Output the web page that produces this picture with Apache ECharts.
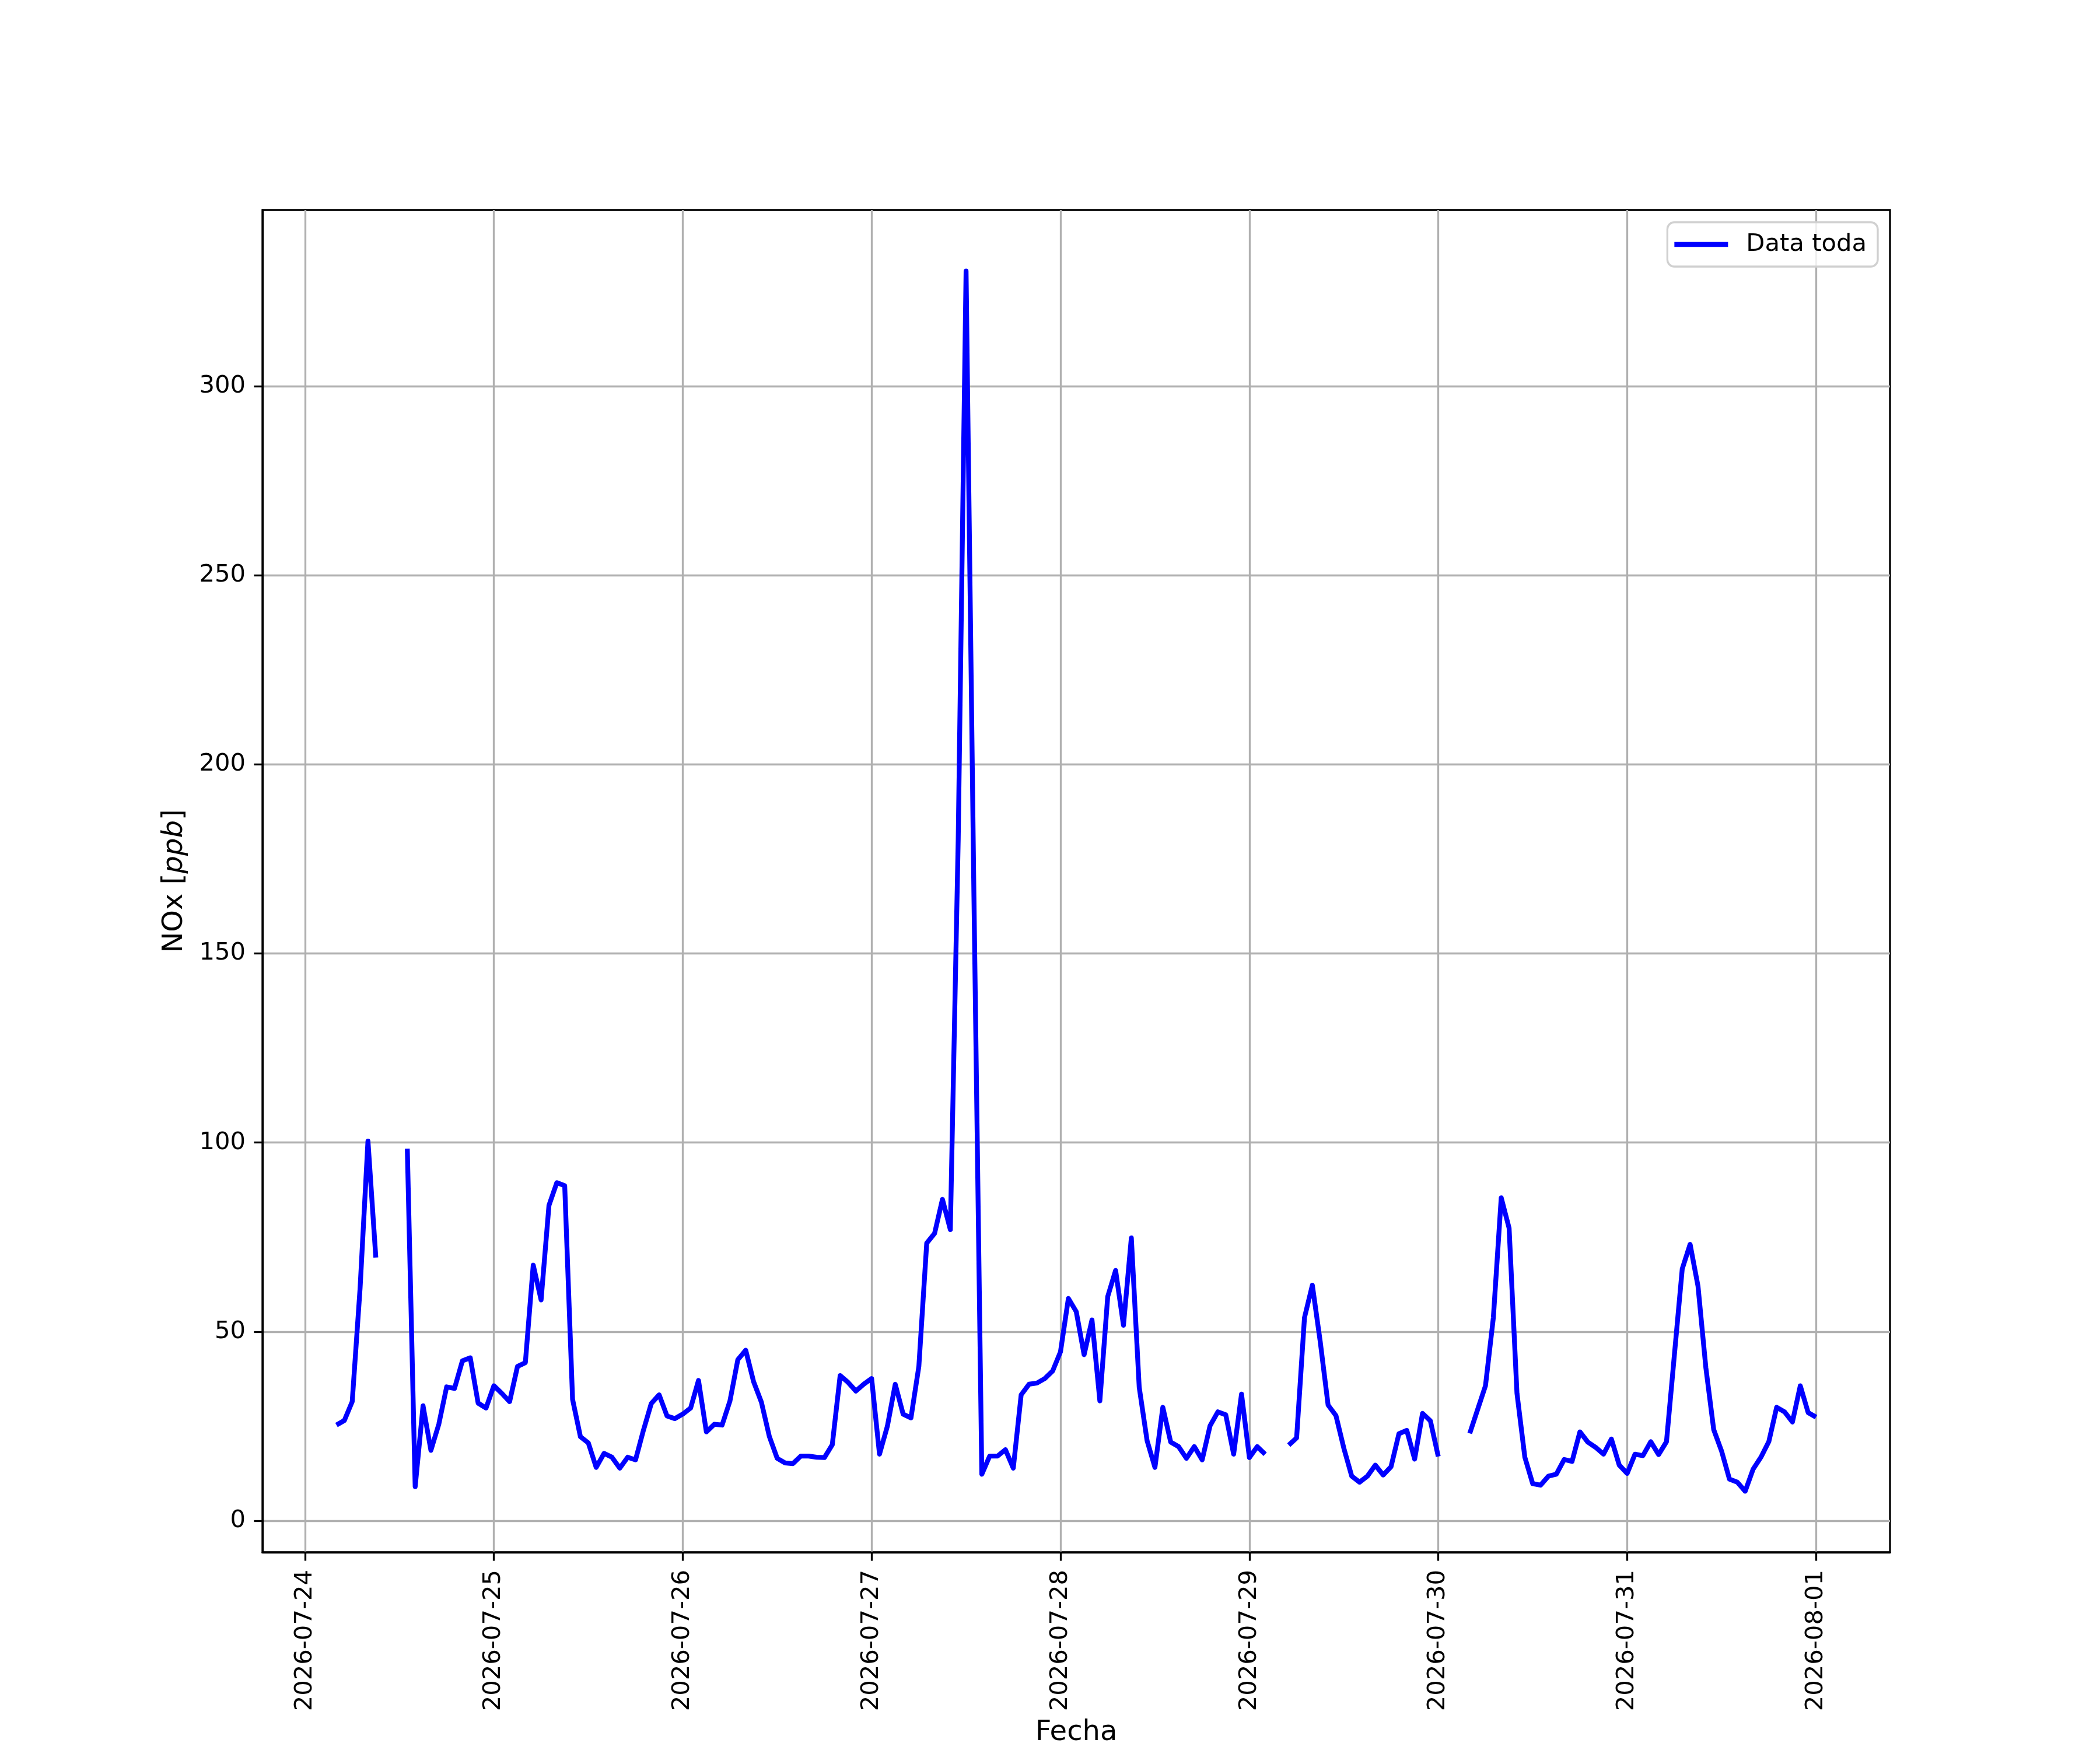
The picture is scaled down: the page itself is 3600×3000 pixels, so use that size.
<!DOCTYPE html>
<html><head><meta charset="utf-8">
<script src="https://cdn.jsdelivr.net/npm/echarts@6/dist/echarts.min.js"></script>
<style>html,body{margin:0;padding:0;background:#fff}#c{width:3600px;height:3000px}</style>
</head><body><div id="c"></div>
<script>
// hours counted from 2026-07-24 00:00; first sample at 04:00, hourly
const startHour = 4;
const nox_0724 = [25.3, 26.5, 31.5, 61.5, 100.4, 69.6, null, null, null, 98.4, 9.0, 30.4, 18.6, 25.5, 35.4, 35.0, 42.3, 43.1, 31.1, 29.8];
const nox_0725 = [35.7, 33.7, 31.5, 40.8, 41.8, 67.6, 58.4, 83.4, 89.4, 88.6, 32.1, 22.2, 20.6, 14.1, 17.8, 16.8, 13.9, 16.8, 16.1, 23.9, 31.0, 33.3, 27.7, 27.0];
const nox_0726 = [28.2, 29.8, 37.1, 23.5, 25.5, 25.3, 31.7, 42.6, 45.1, 36.8, 31.3, 22.3, 16.5, 15.3, 15.1, 17.1, 17.1, 16.8, 16.7, 20.1, 38.4, 36.6, 34.3, 36.1];
const nox_0727 = [37.6, 17.6, 25.0, 36.1, 28.2, 27.2, 40.8, 73.4, 76.0, 85.0, 77.0, 180.0, 330.5, 165.0, 12.3, 17.1, 17.1, 18.8, 13.9, 33.3, 36.1, 36.4, 37.6, 39.6];
const nox_0728 = [44.7, 58.8, 55.3, 43.9, 53.1, 31.7, 59.3, 66.2, 51.7, 74.8, 35.3, 21.2, 14.1, 30.0, 20.8, 19.6, 16.5, 19.6, 16.1, 25.1, 28.8, 28.0, 17.6, 33.5];
const nox_0729 = [16.7, 19.6, 17.6, null, null, 20.0, 21.9, 53.7, 62.3, 47.4, 30.6, 27.8, 19.2, 11.8, 10.2, 11.8, 14.7, 12.1, 14.3, 23.0, 23.9, 16.3, 28.4, 26.4];
const nox_0730 = [17.0, null, null, null, 23.1, 29.4, 35.7, 53.7, 85.4, 77.4, 33.7, 16.8, 9.8, 9.4, 11.8, 12.3, 16.2, 15.7, 23.5, 20.8, 19.4, 17.6, 21.6, 14.7];
const nox_0731 = [12.5, 17.6, 17.2, 20.9, 17.5, 20.9, 43.8, 66.6, 73.1, 62.1, 40.5, 24.1, 18.4, 11.0, 10.2, 7.8, 13.6, 16.8, 20.9, 30.0, 28.8, 26.1, 35.7, 28.6];
const nox_0801 = [27.4];

const dayTicks = [0, 24, 48, 72, 96, 120, 144, 168, 192];
const dayLabels = ['2026-07-24','2026-07-25','2026-07-26','2026-07-27','2026-07-28','2026-07-29','2026-07-30','2026-07-31','2026-08-01'];
const yTicks = [0, 50, 100, 150, 200, 250, 300];
const seriesName = 'Data toda';
const xName = 'Fecha';

const nox = [].concat(nox_0724, nox_0725, nox_0726, nox_0727, nox_0728, nox_0729, nox_0730, nox_0731, nox_0801);
const data = nox.map((v, i) => [startHour + i, v]);

const xs = data.map(d => d[0]);
const vals = nox.filter(v => v !== null);
const x0 = Math.min(...xs), x1 = Math.max(...xs);
const y0 = Math.min(...vals), y1 = Math.max(...vals);
const mx = 0.05 * (x1 - x0), my = 0.05 * (y1 - y0);

const FONT = 'DejaVu Sans';
const FS = 41.7;
const FSL = 48;

const chart = echarts.init(document.getElementById('c'), null, {renderer: 'canvas'});
chart.setOption({
  animation: false,
  backgroundColor: '#ffffff',
  grid: {left: 450, right: 360, top: 360, bottom: 330, show: true, borderColor: '#000', borderWidth: 3.3, backgroundColor: 'transparent'},
  legend: {
    right: 381, top: 381,
    padding: [16, 19, 16, 12],
    backgroundColor: 'rgba(255,255,255,0.8)',
    borderColor: '#d0d0d0', borderWidth: 3.3, borderRadius: 12,
    icon: 'rect', itemWidth: 92, itemHeight: 8.3,
    textStyle: {fontSize: FS, fontFamily: FONT, color: '#000', padding: [0, 0, 0, 26], lineHeight: 44},
    data: [{name: seriesName, itemStyle: {color: '#0000ff'}}]
  },
  xAxis: {
    type: 'value', min: x0 - mx, max: x1 + mx,
    name: xName, nameLocation: 'middle', nameGap: 286,
    nameTextStyle: {fontSize: FSL, fontFamily: FONT, color: '#000', verticalAlign: 'top'},
    axisLine: {show: true, onZero: false, lineStyle: {color: '#000', width: 3.3}},
    axisTick: {show: true, inside: false, length: 14.6, lineStyle: {color: '#000', width: 3.3}, customValues: dayTicks},
    axisLabel: {customValues: dayTicks, rotate: 90, margin: 30, fontSize: FS, fontFamily: FONT, color: '#000',
      formatter: v => dayLabels[Math.round(v / 24)]},
    splitLine: {show: true, lineStyle: {color: '#b0b0b0', width: 3.3}}
  },
  yAxis: {
    type: 'value', min: y0 - my, max: y1 + my,
    name: '{a|NOx [}{b|ppb}{a|]}', nameLocation: 'middle', nameGap: 126, nameRotate: 90,
    nameTextStyle: {rich: {
      a: {fontSize: FSL, fontFamily: FONT, color: '#000'},
      b: {fontSize: FSL, fontFamily: FONT, color: '#000', fontStyle: 'italic'}
    }},
    axisLine: {show: true, onZero: false, lineStyle: {color: '#000', width: 3.3}},
    axisTick: {show: true, inside: false, length: 14.6, lineStyle: {color: '#000', width: 3.3}, customValues: yTicks},
    axisLabel: {customValues: yTicks, margin: 29, fontSize: FS, fontFamily: FONT, color: '#000', formatter: v => String(v)},
    splitLine: {show: true, lineStyle: {color: '#b0b0b0', width: 3.3}}
  },
  series: [{
    name: seriesName, type: 'line', data: data,
    showSymbol: false, symbol: 'none', connectNulls: false,
    lineStyle: {color: '#0000ff', width: 8.3, join: 'round', cap: 'butt'},
    itemStyle: {color: '#0000ff'},
    z: 3
  }]
});
</script>
</body></html>
